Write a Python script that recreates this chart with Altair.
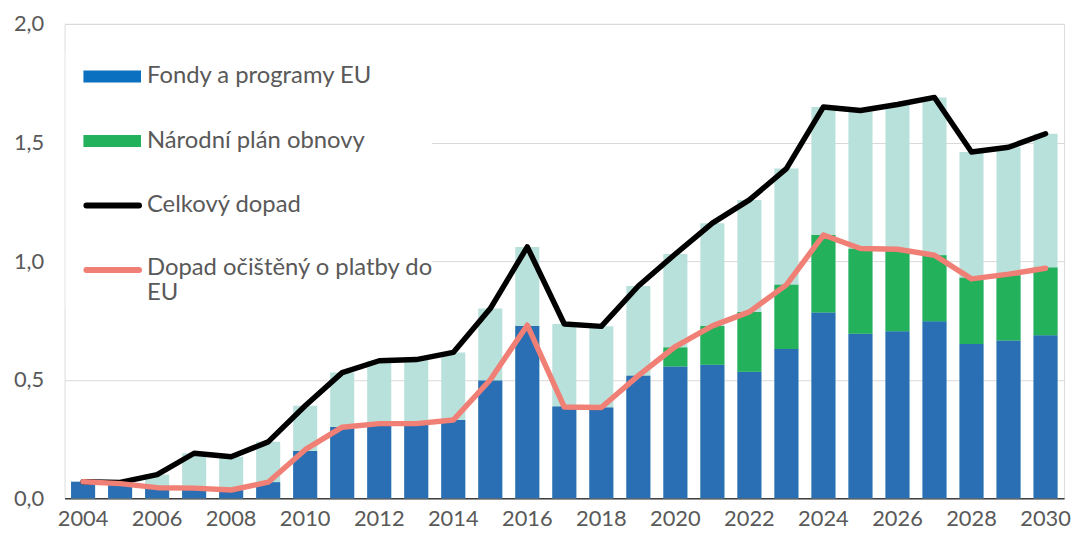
import altair as alt
import pandas as pd

years = list(range(2004, 2031))
fondy = [0.070, 0.065, 0.046, 0.045, 0.039, 0.068, 0.200, 0.301, 0.310, 0.310, 0.330, 0.497, 0.726,
         0.387, 0.383, 0.517, 0.556, 0.563, 0.534, 0.630, 0.783, 0.694, 0.704, 0.747, 0.651, 0.665, 0.687]
npo = [0, 0, 0, 0, 0, 0, 0, 0, 0, 0, 0, 0, 0,
       0, 0, 0, 0.080, 0.163, 0.252, 0.270, 0.327, 0.358, 0.344, 0.278, 0.279, 0.275, 0.286]
celkovy = [0.070, 0.067, 0.100, 0.190, 0.175, 0.238, 0.390, 0.530, 0.580, 0.585, 0.615, 0.800, 1.060,
           0.735, 0.725, 0.895, 1.030, 1.160, 1.258, 1.390, 1.650, 1.635, 1.660, 1.690, 1.460, 1.480, 1.537]
ocisteny = [0.070, 0.062, 0.045, 0.043, 0.035, 0.068, 0.205, 0.300, 0.315, 0.315, 0.330, 0.500, 0.730,
            0.385, 0.383, 0.517, 0.640, 0.727, 0.786, 0.900, 1.110, 1.053, 1.050, 1.025, 0.925, 0.945, 0.970]

tick_years = [y for y in years if y % 2 == 0]

FONT = "Lato"
LBL = "#595959"
BLUE_BAR = "#2A6EB3"
BLUE_LEG = "#0A70BF"
GREEN = "#23B15B"
TEAL = "#B9E1DC"
SALMON = "#F07F75"

df = pd.DataFrame({"rok": years, "fondy": fondy, "npo": npo,
                   "celkovy": celkovy, "ocisteny": ocisteny})
stack_df = pd.DataFrame({
    "rok": years * 2,
    "hodnota": fondy + npo,
    "serie": ["Fondy a programy EU"] * len(years) + ["Národní plán obnovy"] * len(years),
    "poradi": [0] * len(years) + [1] * len(years),
})
one = pd.DataFrame({"k": [0]})

xenc = alt.X("rok:O",
             scale=alt.Scale(paddingInner=0.35, paddingOuter=0.175),
             axis=alt.Axis(values=tick_years, title=None, labelAngle=0, ticks=False,
                           domainColor="#404040", domainWidth=1.5, labelPadding=10,
                           labelFont=FONT, labelFontSize=22, labelColor=LBL, grid=False))
yscale = alt.Scale(domain=[0, 2.0], nice=False)
yaxis = alt.Axis(values=[0, 0.5, 1.0, 1.5, 2.0], title=None, domain=False, ticks=False,
                 labelExpr="replace(format(datum.value, '.1f'), '.', ',')",
                 labelPadding=21, labelFont=FONT, labelFontSize=22, labelColor=LBL,
                 grid=True, gridColor="#d9d9d9", gridWidth=1)

teal = alt.Chart(df).mark_bar(color=TEAL).encode(
    x=xenc, y=alt.Y("celkovy:Q", scale=yscale, axis=yaxis))

stacked = alt.Chart(stack_df).mark_bar().encode(
    x=alt.X("rok:O"),
    y=alt.Y("hodnota:Q", stack="zero", scale=yscale),
    color=alt.Color("serie:N",
                    scale=alt.Scale(domain=["Fondy a programy EU", "Národní plán obnovy"],
                                    range=[BLUE_BAR, GREEN]),
                    legend=None),
    order=alt.Order("poradi:Q"),
)

line_total = alt.Chart(df).mark_line(color="black", strokeWidth=5.5, strokeCap="round",
                                     strokeJoin="round").encode(
    x=alt.X("rok:O"), y=alt.Y("celkovy:Q", scale=yscale))
line_net = alt.Chart(df).mark_line(color=SALMON, strokeWidth=5.5, strokeCap="round",
                                   strokeJoin="round").encode(
    x=alt.X("rok:O"), y=alt.Y("ocisteny:Q", scale=yscale))

# legend (manual)
leg_bg = alt.Chart(one).mark_rect(color="white").encode(
    x=alt.value(1), x2=alt.value(370), y=alt.value(30), y2=alt.value(285))

def leg_rect(color, yc):
    return alt.Chart(one).mark_rect(color=color).encode(
        x=alt.value(19), x2=alt.value(77), y=alt.value(yc - 6), y2=alt.value(yc + 6))

def leg_line(color, yc):
    return alt.Chart(one).mark_rule(color=color, strokeWidth=6, strokeCap="round").encode(
        x=alt.value(22), x2=alt.value(75), y=alt.value(yc))

def leg_text(txt, yc):
    return alt.Chart(one).mark_text(align="left", baseline="middle", font=FONT, fontSize=24,
                                    color=LBL).encode(
        x=alt.value(83), y=alt.value(yc), text=alt.value(txt))

legend = [
    leg_bg,
    leg_rect(BLUE_LEG, 53), leg_text("Fondy a programy EU", 53),
    leg_rect(GREEN, 118), leg_text("Národní plán obnovy", 118),
    leg_line("black", 183), leg_text("Celkový dopad", 183),
    leg_line(SALMON, 248), leg_text("Dopad očištěný o platby do", 246),
    leg_text("EU", 271),
]

chart = alt.layer(teal, stacked, line_total, line_net, *legend).properties(
    width=1007, height=478,
    autosize=alt.AutoSizeParams(type="none"),
    padding={"left": 57, "top": 14, "right": 7, "bottom": 45},
).configure_view(stroke="#d9d9d9", strokeWidth=1).configure(background="white")

chart.save("out.html", embed_options={"renderer": "svg", "actions": False})
